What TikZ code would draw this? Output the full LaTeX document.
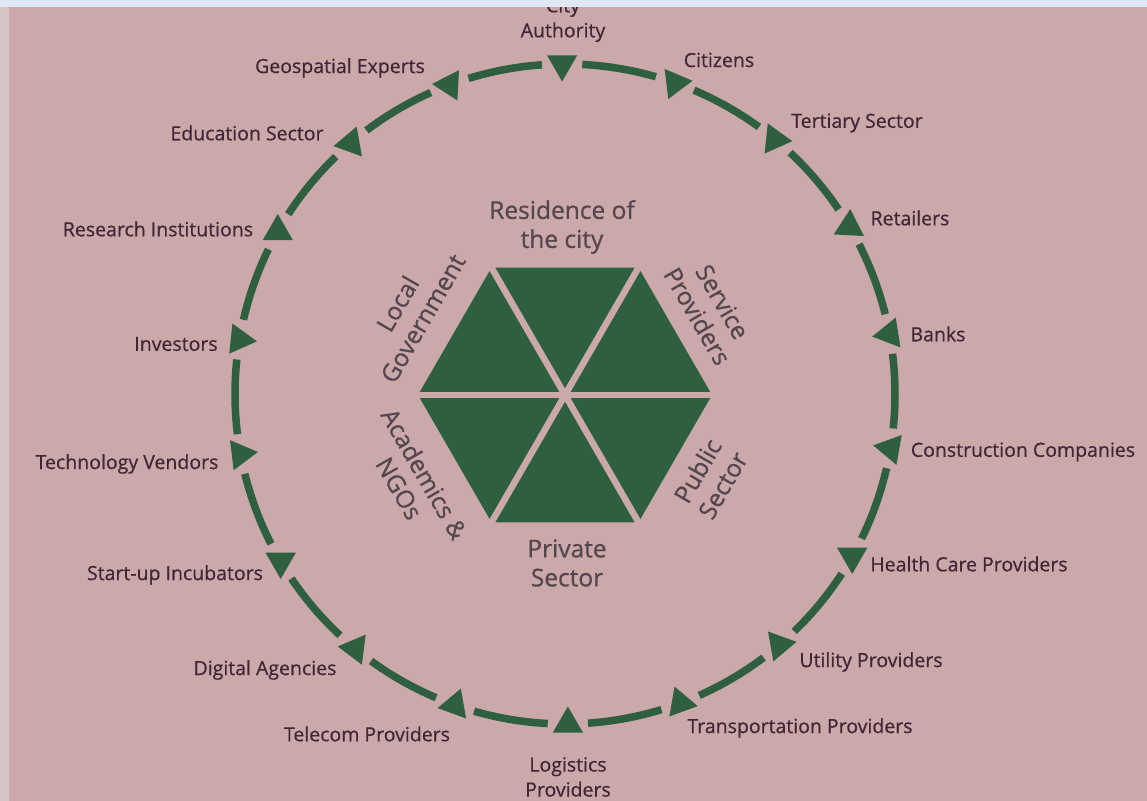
\documentclass[tikz,border=0pt]{standalone}
\usepackage{fontspec}
\setmainfont{Open Sans}
\newfontfamily\labfont{Open Sans}[FakeBold=0.6]
\usetikzlibrary{shapes.geometric}
\definecolor{bg}{RGB}{203,168,170}
\definecolor{grn}{RGB}{46,96,64}
\definecolor{lbl}{RGB}{66,38,54}
\definecolor{clbl}{RGB}{84,70,77}
\definecolor{topstrip}{RGB}{225,231,245}
\definecolor{leftstrip}{RGB}{214,196,198}
\begin{document}
\begin{tikzpicture}[x=0.5pt,y=0.5pt,
  tri/.style={shape=regular polygon, regular polygon sides=3, fill=grn, draw=none, inner sep=0pt, minimum size=17.5pt},
  seg/.style={draw=grn, line width=3.75pt},
  gapline/.style={draw=bg, line width=3.25pt},
  lab/.style={text=lbl, font=\labfont\fontsize{9.75pt}{12.5pt}\selectfont, inner sep=0pt, align=center},
  clab/.style={text=clbl, font=\labfont\fontsize{12.25pt}{14.5pt}\selectfont, inner sep=0pt, align=center}]
\fill[bg] (0,0) rectangle (1147,801);
\useasboundingbox (0,0) rectangle (1147,801);
\fill[leftstrip] (0,0) rectangle (9,794);
\coordinate (C) at (565,407);
\coordinate (H) at (565,406);
% ring segments
\foreach \k [evaluate=\k as \a using 90.5-20*(\k-1)] in {1,...,18}
  \draw[seg] ([shift={(\a-3.5:330)}]C) arc[start angle=\a-3.5, end angle=\a-16.5, radius=330];
% triangles
\foreach \k/\r [evaluate=\k as \a using 90.5-20*(\k-1)] in
  {1/-90, 2/-113, 3/-6, 4/87, 5/189, 6/170, 7/-90, 8/10, 9/-10, 10/90, 11/-170, 12/173, 13/-90, 14/7, 15/-6, 16/90, 17/-170, 18/177}
  \node[tri, rotate=\r-90] (t\k) at ([shift={(\a:330)}]C) {};
% hexagon
\fill[grn] ([shift={(0:147)}]H) -- ([shift={(60:147)}]H) -- ([shift={(120:147)}]H) -- ([shift={(180:147)}]H) -- ([shift={(240:147)}]H) -- ([shift={(300:147)}]H) -- cycle;
\draw[gapline] ([shift={(0:152)}]H) -- ([shift={(180:152)}]H);
\draw[gapline] ([shift={(60:152)}]H) -- ([shift={(240:152)}]H);
\draw[gapline] ([shift={(120:152)}]H) -- ([shift={(300:152)}]H);
% centre labels
\node[clab] (cTop) at (562,574) {Residence of\\the city};
\node[clab] (cBot) at (567,238) {Private\\Sector};
\node[clab, rotate=60] (cLG) at (410,490) {Local\\Government};
\node[clab, rotate=-60] (cSP) at (710,492) {Service\\Providers};
\node[clab, rotate=60] (cPS) at (710,323) {Public\\Sector};
\node[clab, rotate=-60] (cAN) at (412,320) {Academics \&\\NGOs};
% outer labels
\node[lab] (lCity) at (563,781) {City\\Authority};
\node[lab] (lGeo) at (340,733) {Geospatial Experts};
\node[lab] (lCit) at (719,741) {Citizens};
\node[lab] (lEdu) at (247,668) {Education Sector};
\node[lab] (lTer) at (857,678) {Tertiary Sector};
\node[lab] (lRes) at (158,572) {Research Institutions};
\node[lab] (lRet) at (910,583) {Retailers};
\node[lab] (lInv) at (176,457) {Investors};
\node[lab] (lBan) at (938,467) {Banks};
\node[lab] (lTec) at (127,337) {Technology Vendors};
\node[lab] (lCon) at (1023,349) {Construction Companies};
\node[lab] (lSta) at (175,226) {Start-up Incubators};
\node[lab] (lHea) at (969,237) {Health Care Providers};
\node[lab] (lDig) at (265,131) {Digital Agencies};
\node[lab] (lUti) at (871,139) {Utility Providers};
\node[lab] (lTel) at (367,67) {Telecom Providers};
\node[lab] (lTra) at (800,73) {Transportation Providers};
\node[lab] (lLog) at (568,24) {Logistics\\Providers};
\fill[topstrip] (0,794) rectangle (1147,801);
\end{tikzpicture}
\end{document}
